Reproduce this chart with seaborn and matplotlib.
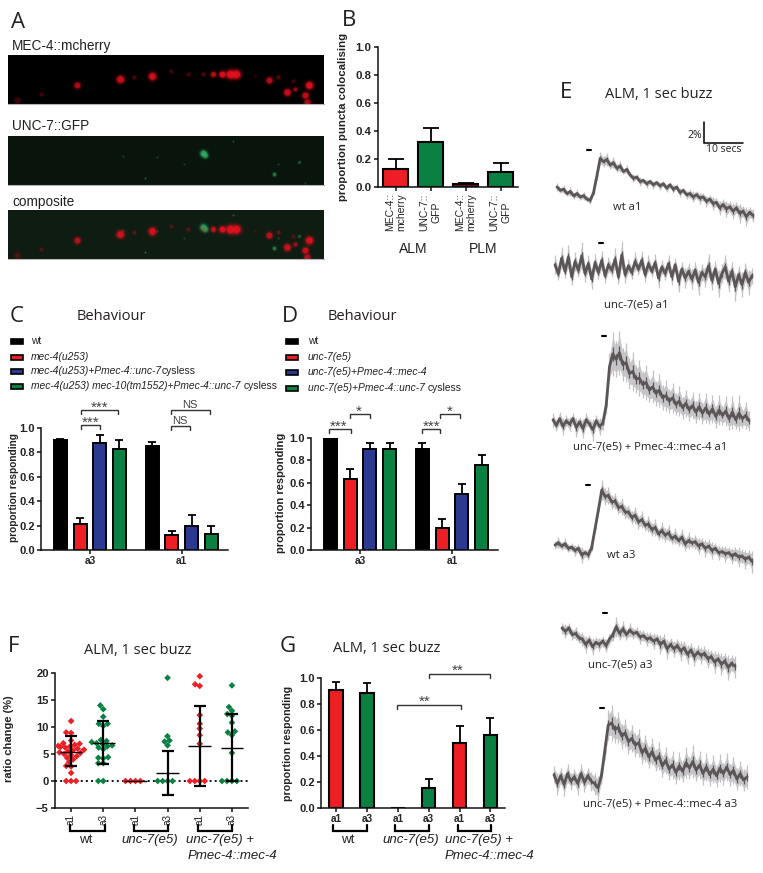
import numpy as np
import pandas as pd
import matplotlib
matplotlib.use("Agg")
import matplotlib.pyplot as plt
from matplotlib.patches import Rectangle
import seaborn as sns

sns.set_style("ticks")
plt.rcParams['font.family'] = ['Liberation Sans', 'DejaVu Sans']

W, H = 763, 873
RED, GREEN, BLUE, BLACK = "#ed1f24", "#0a8143", "#2b3990", "#000000"
TITLE_FONT = ['Open Sans', 'DejaVu Sans']

# Panel A puncta (position along the neurite, depth, size, brightness)
mec_x = [69, 112, 126, 144, 163, 180, 195, 205, 214, 222, 228, 247, 261, 270, 285, 301, 287, 279, 297, 299, 33, 9]
mec_y = [30, 24, 22, 21, 16, 19, 19, 19, 19, 19, 19, 21, 25, 22, 26, 30, 34, 37, 40, 47, 39, 45]
mec_size = [3, 3.5, 2, 3.5, 2, 2, 2, 2.5, 3, 4, 4, 1.5, 3, 2, 2, 3.5, 2, 3.2, 3, 3, 2, 3]
mec_bright = [.7, .9, .25, .95, .2, .25, .3, .8, 1, 1, 1, .15, .75, .3, .2, 1, .6, .9, .85, .7, .2, .2]
gfp_x = [195, 197, 225, 137, 266, 291, 270, 176, 149, 115, 297]
gfp_y = [17, 19, 5, 42, 38, 26, 28, 28, 21, 20, 47]
gfp_size = [3, 2.6, 0.8, 0.8, 1.8, 1.5, 1, 1, 1, 1, 1]
gfp_bright = [.85, .7, .4, .5, .55, .35, .25, .2, .2, .2, .2]

# Panel B
b_groups = ["ALM mec", "ALM unc", "PLM mec", "PLM unc"]
b_labels = ["MEC-4::\nmcherry", "UNC-7::\nGFP", "MEC-4::\nmcherry", "UNC-7::\nGFP"]
b_values = [0.13, 0.32, 0.02, 0.11]
b_tips = [0.20, 0.42, 0.03, 0.17]
b_colors = [RED, GREEN, "#7a1216", GREEN]

# Panels C and D
stim = ["a3", "a1"]
c_strains = ["wt", "mec-4(u253)", "mec-4(u253)+Pmec-4::unc-7cysless", "mec-4(u253) mec-10(tm1552)+Pmec-4::unc-7 cysless"]
c_values = [[0.90, 0.215, 0.875, 0.83], [0.85, 0.12, 0.195, 0.13]]
c_tips = [[0.91, 0.26, 0.94, 0.90], [0.885, 0.155, 0.285, 0.195]]
d_strains = ["wt", "unc-7(e5)", "unc-7(e5)+Pmec-4::mec-4", "unc-7(e5)+Pmec-4::unc-7 cysless"]
d_values = [[1.0, 0.63, 0.90, 0.90], [0.90, 0.20, 0.50, 0.76]]
d_tips = [[1.0, 0.72, 0.955, 0.955], [0.955, 0.275, 0.59, 0.845]]

# Panels F and G share groups
groups = ["wt a1", "wt a3", "unc a1", "unc a3", "rescue a1", "rescue a3"]
tick_names = ["a1", "a3", "a1", "a3", "a1", "a3"]
f_points = [
    [11.1, 9.0, 8.9, 7.5, 7.0, 6.9, 6.7, 6.5, 6.4, 6.3, 6.2, 6.0, 5.8, 5.7, 5.5, 5.3, 5.2, 5.0, 4.8, 4.6,
     4.3, 4.0, 3.5, 2.8, 2.7, 1.5, 0, 0, 0],
    [14.0, 13.3, 11.9, 10.6, 10.6, 10.2, 7.6, 7.4, 7.2, 7.0, 6.8, 6.6, 6.4, 6.2, 5.9, 4.4, 4.3, 4.2, 3.3, 3.3, 0, 0],
    [0, 0, 0, 0],
    [19.1, 8.3, 7.5, 7.3, 6.6, 0, 0, 0, 0],
    [19.4, 17.9, 17.6, 12.2, 10.6, 9.7, 8.5, 6.9, 0, 0, 0, 0],
    [17.7, 13.7, 13.0, 12.4, 12.1, 10.8, 9.2, 9.0, 8.5, 5.2, 0, 0, 0, 0],
]
f_means = [5.4, 7.1, 0.0, 1.5, 6.4, 6.2]
f_upper = [8.3, 11.1, 0.0, 5.6, 13.8, 12.4]
f_lower = [2.7, 3.1, 0.0, -2.6, -1.0, 0.0]
f_colors = [RED, GREEN, RED, GREEN, RED, GREEN]
g_values = [0.91, 0.885, 0.0, 0.155, 0.50, 0.565]
g_tips = [0.97, 0.96, 0.0, 0.22, 0.63, 0.69]

# Panel E traces, % ratio change against time
wt_a1 = [0.0, -0.3, -0.2, -0.6, -0.4, -0.8, -0.6, -0.9, -0.8, -1.1, -1.2, -0.5, 1.0, 2.6, 2.3, 2.5, 2.0, 2.2, 1.7, 1.9,
         1.4, 1.6, 1.1, 0.8, 0.9, 0.5, 0.6, 0.3, 0.5, 0.2, 0.4, 0.1, 0.3, -0.1, 0.2, -0.2, 0.0, -0.5, -0.3, -0.7,
         -0.6, -0.9, -0.7, -1.0, -0.9, -1.3, -1.1, -1.5, -1.4, -1.9, -1.6, -2.0, -1.8, -2.2, -1.9, -2.4, -2.2, -2.7, -2.3, -2.6]
wt_a1_sem = [.3, .2, .3, .2, .3, .2, .3, .2, .3, .2, .3, .2, .3, .5, .4, .5, .3, .4, .3, .4,
             .2, .3, .2, .3, .2, .3, .2, .3, .2, .3, .2, .3, .2, .3, .2, .3, .2, .3, .2, .3,
             .3, .4, .3, .4, .3, .4, .3, .5, .3, .5, .4, .6, .4, .6, .4, .7, .4, .7, .4, .5]
unc_a1 = [0.2, -0.6, 0.8, -0.4, 0.9, -0.9, 0.5, -0.3, 1.0, -0.6, 0.3, -1.1, 0.4, -0.5, 0.6, -0.8, 0.2, -0.3, 0.7, -0.9,
          1.1, -0.7, 0.1, -0.5, 0.5, -0.2, 0.6, -0.7, 0.3, -0.4, 0.4, -1.0, 0.0, -0.6, 0.3, -0.9, 0.2, -1.3, -0.2, -1.0,
          -0.4, -1.1, -0.3, -1.4, -0.5, -0.9, 0.1, -1.2, -0.2, -1.5, -0.6, 0.0, -1.3, -0.4, -1.8, -0.7, -1.6, -0.5, -1.4, -0.8]
unc_a1_sem = [.7, .5, .8, .5, .9, .6, .7, .5, 1.0, .6, .6, .7, .6, .5, .7, .5, .6, .5, .8, .5,
              1.0, .6, .5, .5, .7, .4, .7, .5, .6, .4, .6, .7, .5, .5, .6, .6, .5, .8, .5, .7,
              .6, .7, .6, .9, .6, .7, .9, .7, .6, 1.0, .7, .9, .8, .7, 1.0, .6, .9, .7, .9, .6]
res_a1 = [0.2, -0.3, 0.3, -0.4, 0.1, -0.2, 0.3, -0.5, 0.0, -0.6, 0.2, -0.2, -0.7, 0.1, -0.4, -0.1, 1.5, 5.0, 6.2, 5.7,
          6.3, 5.2, 5.4, 4.4, 4.6, 3.9, 4.0, 3.4, 3.6, 2.9, 3.2, 2.6, 2.9, 2.2, 2.4, 1.9, 2.2, 1.6, 1.9, 1.3,
          1.7, 1.1, 1.5, 0.9, 1.4, 0.8, 1.3, 0.7, 1.2, 0.5, 1.1, 0.6, 1.0, 0.3, 0.9, 0.2, 0.8, 0.3, 0.6, 0.1]
res_a1_sem = [.5, .4, .5, .6, .4, .5, .4, .7, .4, .7, .5, .4, .8, .4, .6, .5, .6, 1.0, 1.6, 1.3,
              1.6, 1.2, 1.4, 1.1, 1.4, 1.0, 1.3, 1.0, 1.3, .9, 1.2, .9, 1.2, .9, 1.1, .9, 1.1, .8, 1.1, .8,
              1.0, .8, 1.0, .8, 1.0, .8, 1.1, .7, 1.0, .8, 1.1, .7, 1.1, .8, 1.2, .7, 1.3, .7, 1.0, .7]
wt_a3 = [0.0, 0.2, -0.1, 0.1, -0.3, -0.2, -0.5, -0.3, -0.9, -0.7, -0.9, -0.2, 1.5, 3.2, 5.0, 4.4, 4.5, 3.9, 4.0, 3.4,
         3.5, 3.0, 3.0, 2.5, 2.7, 2.1, 2.3, 1.8, 1.9, 1.4, 1.6, 1.0, 1.3, 0.9, 1.1, 0.6, 0.8, 0.4, 0.7, 0.1,
         0.4, 0.2, 0.3, -0.1, 0.1, -0.3, -0.1, -0.5, -0.3, -0.7, -0.6, -0.8, -0.7, -1.0, -0.8, -1.1, -1.0, -1.3, -1.1, -1.5]
wt_a3_sem = [.3, .4, .3, .4, .3, .3, .4, .3, .6, .3, .4, .3, .3, .3, .7, .6, .6, .5, .6, .5,
             .6, .5, .5, .5, .6, .5, .6, .4, .6, .5, .6, .4, .6, .5, .6, .4, .6, .4, .6, .5,
             .6, .4, .5, .6, .4, .6, .5, .6, .4, .5, .4, .6, .4, .6, .5, .7, .5, .7, .5, .8]
unc_a3 = [0.0, -0.3, 0.0, -0.6, -0.5, -0.9, -1.0, -1.5, -1.1, -1.7, -1.3, -1.5, -1.2, -1.6, -1.0, -0.6, 0.1, -0.5, -0.1, -0.6,
          -0.2, -0.5, -0.4, -0.8, -0.7, -1.0, -0.9, -1.2, -1.0, -1.5, -1.2, -1.9, -1.5, -1.9, -1.6, -2.1, -1.8, -2.4, -2.0, -2.6,
          -2.2, -2.5, -2.3, -2.8, -2.6, -3.1, -2.8, -3.3, -3.0, -3.6, -3.2, -3.5]
unc_a3_sem = [.4, .5, .4, .4, .5, .4, .5, .6, .4, .6, .4, .5, .4, .5, .4, .5, .7, .5, .6, .4,
              .5, .4, .4, .5, .4, .5, .4, .6, .4, .7, .5, .7, .5, .6, .5, .7, .5, .7, .5, .7,
              .5, .6, .5, .7, .5, .8, .5, .8, .6, .9, .6, .8]
res_a3 = [0.3, -0.5, 0.2, -0.6, 0.4, -0.3, 0.1, -0.5, 0.4, -0.4, 0.2, -0.3, -0.5, -0.9, 0.2, 2.5, 4.8, 5.0, 4.4, 4.6,
          3.8, 4.1, 3.3, 3.6, 3.0, 3.2, 2.3, 2.7, 1.9, 2.4, 1.6, 2.0, 1.1, 1.6, 0.8, 1.2, 0.5, 1.1, 0.6, 1.4,
          0.9, 1.5, 0.7, 1.2, 0.4, 1.0, 0.3, 0.8, 0.2, 0.9, 0.4, 1.0, 0.3, 0.7, -0.1, 0.4, -0.2, 0.1]
res_a3_sem = [.6, .8, .6, .8, .7, .6, .6, .8, .7, .7, .6, .7, .8, .9, .6, .7, 1.1, 1.3, 1.0, 1.1,
              .9, 1.0, .9, 1.0, .9, 1.0, .8, 1.0, .8, 1.0, .8, 1.0, .8, 1.0, .8, 1.0, .8, 1.0, .8, 1.1,
              .8, 1.2, .8, 1.0, .8, 1.0, .8, 1.0, .8, 1.0, .8, 1.0, .8, 1.0, .8, .9, .8, .9]

# data, sem, left edge, baseline, length (reference pixels)
traces = [
    (wt_a1, wt_a1_sem, 557, 187, 196),
    (unc_a1, unc_a1_sem, 555, 267, 197),
    (res_a1, res_a1_sem, 553, 422, 196),
    (wt_a3, wt_a3_sem, 555, 545, 197),
    (unc_a3, unc_a3_sem, 562, 628, 173),
    (res_a3, res_a3_sem, 554, 778, 193),
]
PX_PER_SEC = 3.8
PX_PER_PCT = 11.0


def px_axes(fig, left, top, right, bottom):
    return fig.add_axes([left / W, 1 - bottom / H, (right - left) / W, (bottom - top) / H])


fig = plt.figure(figsize=(W / 100, H / 100), dpi=100)
overlay = fig.add_axes([0, 0, 1, 1], zorder=10)
overlay.set_xlim(0, W)
overlay.set_ylim(H, 0)
overlay.axis("off")
overlay.patch.set_alpha(0)


def label(x, y, s, size=9, ha="center", va="center", **kw):
    kw.setdefault("color", "#231f20")
    return overlay.text(x, y, s, fontsize=size, ha=ha, va=va, **kw)


def title(x, y, s, size=10.5):
    label(x, y, s, size=size, family=TITLE_FONT)


def bracket(x0, x1, y, drop=4, lw=1.0, color="#333333"):
    overlay.plot([x0, x0, x1, x1], [y + drop, y, y, y + drop], color=color, lw=lw, solid_joinstyle="miter")


def sig(x, y, s, size=8):
    label(x, y, s, size, color="#444444")


def style(ax, ylabel, lab_x, lab_y, size=8, tick_size=8):
    sns.despine(ax=ax)
    for side in ["left", "bottom"]:
        ax.spines[side].set_linewidth(1.1)
        ax.spines[side].set_color("#111111")
    ax.tick_params(axis="both", length=3, width=1.1, pad=1.5, color="#111111")
    ax.set_xlabel("")
    ax.set_ylabel(ylabel, fontsize=size, fontweight="bold", color="#222222")
    ax.yaxis.set_label_coords(lab_x, lab_y, transform=overlay.transData)
    for t in ax.get_yticklabels():
        t.set_fontweight("bold")
        t.set_fontsize(tick_size)
        t.set_color("#222222")


def add_errors(ax, tips, capsize=3.2, lw=1.3):
    bars = [p for c in ax.containers for p in c]
    for p, tip in zip(bars, tips):
        x = p.get_x() + p.get_width() / 2
        top = p.get_height()
        if tip > top:
            ax.errorbar(x, top, yerr=[[0], [tip - top]], color="black", lw=lw, capsize=capsize, capthick=lw)


def glow(ax, xs, ys, sizes, bright, color):
    for scale, alpha in [(6, .07), (3.6, .16), (2.2, .35), (1.2, .8)]:
        for x, y, s, b in zip(xs, ys, sizes, bright):
            sns.scatterplot(x=[x], y=[y], s=float(s * s * scale * 1.4), color=color, alpha=alpha * b,
                            linewidth=0, ax=ax, legend=False)


# A
panel_a = [(55, "#000000", True, False), (136, "#09140c", False, True), (210, "#0f1c12", True, True)]
for top, bg, show_red, show_green in panel_a:
    ax = px_axes(fig, 8, top, 324, top + 49)
    ax.set_facecolor(bg)
    if show_green:
        glow(ax, gfp_x, gfp_y, gfp_size, gfp_bright, "#2fb868")
    if show_red:
        glow(ax, mec_x, mec_y, mec_size, mec_bright, "#ee1020")
    ax.set_xlim(0, 316)
    ax.set_ylim(49, 0)
    ax.set_xticks([])
    ax.set_yticks([])
    for s in ax.spines.values():
        s.set_visible(False)
    ax.spines["bottom"].set_visible(True)
    ax.spines["bottom"].set_color("#b5b5b5")
    ax.set_xlabel("")
    ax.set_ylabel("")
label(12, 46, "MEC-4::mcherry", 9.8, ha="left")
label(12, 126, "UNC-7::GFP", 9.8, ha="left")
label(12, 202, "composite", 9.8, ha="left")

# B
ax = px_axes(fig, 378, 47, 518, 187)
df = pd.DataFrame({"group": b_groups, "value": b_values})
sns.barplot(data=df, x="group", y="value", hue="group", palette=b_colors, width=0.69, edgecolor="black",
            linewidth=1.5, saturation=1, legend=False, ax=ax)
add_errors(ax, b_tips, capsize=5.5)
ax.set_xlim(-0.5, 3.5)
ax.set_ylim(0, 1)
ax.set_yticks(np.arange(0, 1.01, 0.2))
style(ax, "proportion puncta colocalising", 348, 117, size=8.2, tick_size=8.2)
ax.set_xticks(range(4))
ax.set_xticklabels(b_labels, rotation=90, fontsize=7.5, color="#222222", linespacing=1.2, ha="center", va="top")
label(413, 249, "ALM", 10)
label(483, 249, "PLM", 10)


def grouped_bars(rect, strains, values, tips, xlim, lab_x, lab_y, size):
    ax = px_axes(fig, *rect)
    df = pd.DataFrame([{"stim": s, "strain": st, "value": values[i][j]}
                       for i, s in enumerate(stim) for j, st in enumerate(strains)])
    sns.barplot(data=df, x="stim", y="value", hue="strain", hue_order=strains, order=stim,
                palette=[BLACK, RED, BLUE, GREEN], width=0.858, gap=0.35, edgecolor="black", linewidth=1.4,
                saturation=1, legend=False, ax=ax)
    # containers go strain by strain, tips are stored stim by stim
    add_errors(ax, [tips[i][j] for j in range(4) for i in range(2)], capsize=3.2)
    ax.set_xlim(*xlim)
    ax.set_ylim(0, 1)
    ax.set_yticks(np.arange(0, 1.01, 0.2))
    style(ax, "proportion responding", lab_x, lab_y, size=size)
    for t in ax.get_xticklabels():
        t.set_fontweight("bold")
        t.set_fontsize(7.3)
    return ax


def legend_rows(x_sw, x_txt, ys, rows):
    for y, col, parts in zip(ys, [BLACK, RED, BLUE, GREEN], rows):
        overlay.add_patch(Rectangle((x_sw, y - 2.5), 12, 5, facecolor=col, edgecolor="black", lw=1.2))
        x = x_txt
        for s, st in parts:
            t = label(x, y, s, 7.4, ha="left", style=st)
            bb = t.get_window_extent(fig.canvas.get_renderer())
            x += bb.width


# C
grouped_bars((41, 428, 228, 550), c_strains, c_values, c_tips, (-0.534, 1.505), 19, 488, 7.3)
label(17, 316, "C", 16, family=TITLE_FONT)
title(111, 317, "Behaviour")
legend_rows(11, 31, [341, 357, 371, 386], [
    [("wt", "normal")], [("mec-4(u253)", "italic")], [("mec-4(u253)+Pmec-4::unc-7", "italic"), ("cysless", "normal")],
    [("mec-4(u253) mec-10(tm1552)+Pmec-4::unc-7 ", "italic"), ("cysless", "normal")]])
for x0, x1, y, s, tx, ty, sz in [(81, 118, 410, "***", 100, 408, 11), (81, 100, 425, "***", 91, 423, 11),
                                 (171, 210, 410, "NS", 190, 405, 8), (171, 190, 426, "NS", 180, 421, 8)]:
    bracket(x0, x1, y)
    sig(tx, ty, s, sz)

# D
grouped_bars((311, 438, 498, 550), d_strains, d_values, d_tips, (-0.533, 1.5), 286, 493, 8)
label(290, 317, "D", 16, family=TITLE_FONT)
title(362, 317, "Behaviour")
legend_rows(286, 308, [341, 357, 372, 388], [
    [("wt", "normal")], [("unc-7(e5)", "italic")], [("unc-7(e5)+Pmec-4::mec-4", "italic")],
    [("unc-7(e5)+Pmec-4::unc-7 ", "italic"), ("cysless", "normal")]])
for x0, x1, y, s, tx, ty in [(329, 351, 429, "***", 339, 427), (350, 370, 414, "*", 359, 412),
                             (422, 440, 429, "***", 432, 427), (440, 460, 414, "*", 450, 412)]:
    bracket(x0, x1, y)
    sig(tx, ty, s, 11)

# F
ax = px_axes(fig, 55, 673, 248, 808)
df = pd.DataFrame([{"group": groups[i], "value": v} for i, pts in enumerate(f_points) for v in pts])
sns.swarmplot(data=df, x="group", y="value", hue="group", order=groups, palette=f_colors, marker="D", size=3.4,
              linewidth=0, legend=False, ax=ax, warn_thresh=1)
ax.axhline(0, color="#111111", ls=":", lw=1.4, zorder=1)
for i in range(6):
    if f_upper[i] > f_lower[i]:
        ax.errorbar(i, f_means[i], yerr=[[f_means[i] - f_lower[i]], [f_upper[i] - f_means[i]]], color="black",
                    lw=1.6, capsize=4.5, capthick=1.6, zorder=5)
    ax.hlines(f_means[i], i - 0.35, i + 0.35, color="black", lw=1.0, zorder=5)
ax.set_xlim(-0.5, 5.5)
ax.set_ylim(-5, 20)
ax.set_yticks([-5, 0, 5, 10, 15, 20])
style(ax, "ratio change (%)", 14, 739, size=8)
ax.set_xticks(range(6))
ax.set_xticklabels(tick_names, rotation=90, fontsize=7.2, color="#222222")
label(14, 647, "F", 16, family=TITLE_FONT)
title(138, 650, "ALM, 1 sec buzz")
for x0, x1 in [(70, 105), (134, 168), (198, 232)]:
    overlay.plot([x0, x0, x1, x1], [825, 831, 831, 825], color="black", lw=1.6, solid_joinstyle="miter")
label(86, 840, "wt", 9.5)
label(150, 840, "unc-7(e5)", 9.5, style="italic")
label(220, 840, "unc-7(e5) +", 9.5, style="italic")
label(232, 856, "Pmec-4::mec-4", 9.5, style="italic")

# G
ax = px_axes(fig, 321, 678, 505, 808)
df = pd.DataFrame({"group": groups, "value": g_values})
sns.barplot(data=df, x="group", y="value", hue="group", palette=f_colors, width=0.43, edgecolor="black", linewidth=1.5,
            saturation=1, legend=False, ax=ax)
add_errors(ax, g_tips, capsize=3.2)
ax.set_xlim(-0.49, 5.47)
ax.set_ylim(0, 1)
ax.set_yticks(np.arange(0, 1.01, 0.2))
style(ax, "proportion responding", 293, 743, size=7.7)
ax.set_xticks(range(6))
ax.set_xticklabels(tick_names, fontsize=7.2, fontweight="bold", color="#222222")
label(288, 647, "G", 16, family=TITLE_FONT)
title(387, 648, "ALM, 1 sec buzz")
bracket(397, 461, 705)
sig(425, 702, "**", 11)
bracket(429, 490, 674)
sig(458, 671, "**", 11)
for x0, x1 in [(333, 367), (395, 429), (458, 491)]:
    overlay.plot([x0, x0, x1, x1], [825, 831, 831, 825], color="black", lw=1.6, solid_joinstyle="miter")
label(348, 840, "wt", 9.5)
label(411, 840, "unc-7(e5)", 9.5, style="italic")
label(479, 840, "unc-7(e5) +", 9.5, style="italic")
label(489, 856, "Pmec-4::mec-4", 9.5, style="italic")

# E
ax = px_axes(fig, 545, 100, 763, 840)
ax.set_xlim(0, 218 / PX_PER_SEC)
ax.set_ylim(0, 740 / PX_PER_PCT)
ax.axis("off")
for vals, sem, left, base, length in traces:
    n = min(len(vals), len(sem))
    v = np.array(vals[:n])
    s = np.array(sem[:n])
    t = (left - 545) / PX_PER_SEC + np.linspace(0, length / PX_PER_SEC, n)
    y = (840 - base) / PX_PER_PCT + v
    ax.fill_between(t, y - 0.85 * s, y + 0.85 * s, color="#c8c7ca", lw=0.4)
    ax.vlines(t, y - 1.25 * s, y + 1.25 * s, color="#c2c1c4", lw=0.9)
    ax.vlines(t, y - 0.4 * s, y + 0.4 * s, color="#5b5557", lw=0.9)
    sns.lineplot(x=t, y=y, estimator=None, sort=False, color="#5b5557", lw=2.0, ax=ax)
for x, y in [(589, 150), (601, 243), (604, 336), (588, 485), (605, 613), (602, 708)]:
    overlay.plot([x - 2, x + 2], [y, y], color="black", lw=1.5)
overlay.plot([704, 704, 743], [122, 143, 143], color="black", lw=1.1, solid_joinstyle="miter")
label(702, 136, "2%", 7.5, ha="right", family=TITLE_FONT)
label(724, 150, "10 secs", 7.5, family=TITLE_FONT)
label(566, 92, "E", 16, family=TITLE_FONT)
title(659, 94, "ALM, 1 sec buzz")
for x, y, s in [(627, 207, "wt a1"), (636, 305, "unc-7(e5) a1"), (650, 447, "unc-7(e5) + Pmec-4::mec-4 a1"),
                (621, 555, "wt a3"), (620, 665, "unc-7(e5) a3"), (660, 804, "unc-7(e5) + Pmec-4::mec-4 a3")]:
    label(x, y, s, 8.1, family=TITLE_FONT)

label(18, 22, "A", 16, family=TITLE_FONT)
label(349, 21, "B", 16, family=TITLE_FONT)

fig.savefig("out.png", dpi=100)
